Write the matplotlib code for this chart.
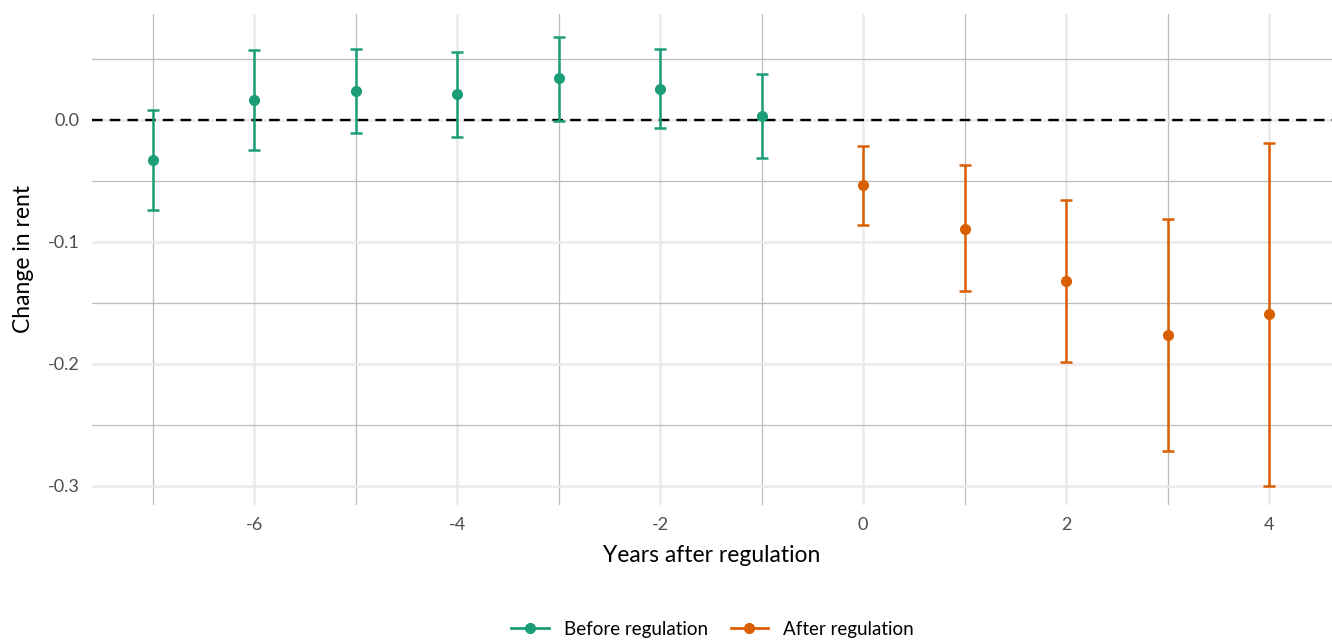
import numpy as np
import matplotlib.pyplot as plt
from matplotlib.ticker import MultipleLocator
from matplotlib.lines import Line2D

plt.rcParams['font.family'] = ['Lato', 'DejaVu Sans']

# event-study estimates
years_before = [-7, -6, -5, -4, -3, -2, -1]
est_before = [-0.033, 0.016, 0.024, 0.021, 0.034, 0.025, 0.003]
lo_before = [-0.074, -0.025, -0.011, -0.014, -0.001, -0.007, -0.031]
hi_before = [0.008, 0.057, 0.058, 0.056, 0.068, 0.058, 0.038]

years_after = [0, 1, 2, 3, 4]
est_after = [-0.053, -0.089, -0.132, -0.176, -0.159]
lo_after = [-0.086, -0.140, -0.198, -0.271, -0.300]
hi_after = [-0.021, -0.037, -0.066, -0.081, -0.019]

GREEN = '#1b9e77'
ORANGE = '#d95f02'

fig = plt.figure(figsize=(13.32, 6.42), dpi=100)
ax = fig.add_axes([0.069, 0.2134, 0.931, 0.765])

for s in ax.spines.values():
    s.set_visible(False)

ax.set_xlim(-7.6, 4.62)
ax.set_ylim(-0.3156, 0.0869)
ax.xaxis.set_major_locator(MultipleLocator(2))
ax.xaxis.set_minor_locator(MultipleLocator(1))
ax.yaxis.set_major_locator(MultipleLocator(0.1))
ax.yaxis.set_minor_locator(MultipleLocator(0.05))
ax.grid(which='major', color='#ebebeb', linewidth=1.8)
ax.grid(which='minor', color='#bdbdbd', linewidth=0.9)
ax.set_axisbelow(True)
ax.tick_params(which='both', length=0, labelsize=13, labelcolor='#4d4d4d', pad=9)
ax.yaxis.set_major_formatter(plt.FuncFormatter(lambda v, p: f'{v:.1f}'))
ax.xaxis.set_major_formatter(plt.FuncFormatter(lambda v, p: f'{v:.0f}'))

ax.axhline(0, color='black', linewidth=1.7, linestyle=(0, (4.5, 3)), zorder=2)

def draw(xs, est, lo, hi, col):
    est = np.array(est)
    yerr = [est - np.array(lo), np.array(hi) - est]
    ax.errorbar(xs, est, yerr=yerr, fmt='o', color=col, ecolor=col, markersize=7,
                elinewidth=1.8, capsize=4, capthick=1.8, zorder=3)

draw(years_before, est_before, lo_before, hi_before, GREEN)
draw(years_after, est_after, lo_after, hi_after, ORANGE)

ax.set_xlabel('Years after regulation', fontsize=16.5, labelpad=8)
ax.set_ylabel('Change in rent', fontsize=16.5, labelpad=10)

handles = [Line2D([], [], color=GREEN, marker='o', markersize=7, linewidth=2),
           Line2D([], [], color=ORANGE, marker='o', markersize=7, linewidth=2)]
fig.legend(handles, ['Before regulation', 'After regulation'], loc='center',
           bbox_to_anchor=(0.535, 0.02), ncol=2, frameon=False, fontsize=13.5,
           handlelength=2.0, columnspacing=1.2)

fig.savefig('out.png', dpi=100)
